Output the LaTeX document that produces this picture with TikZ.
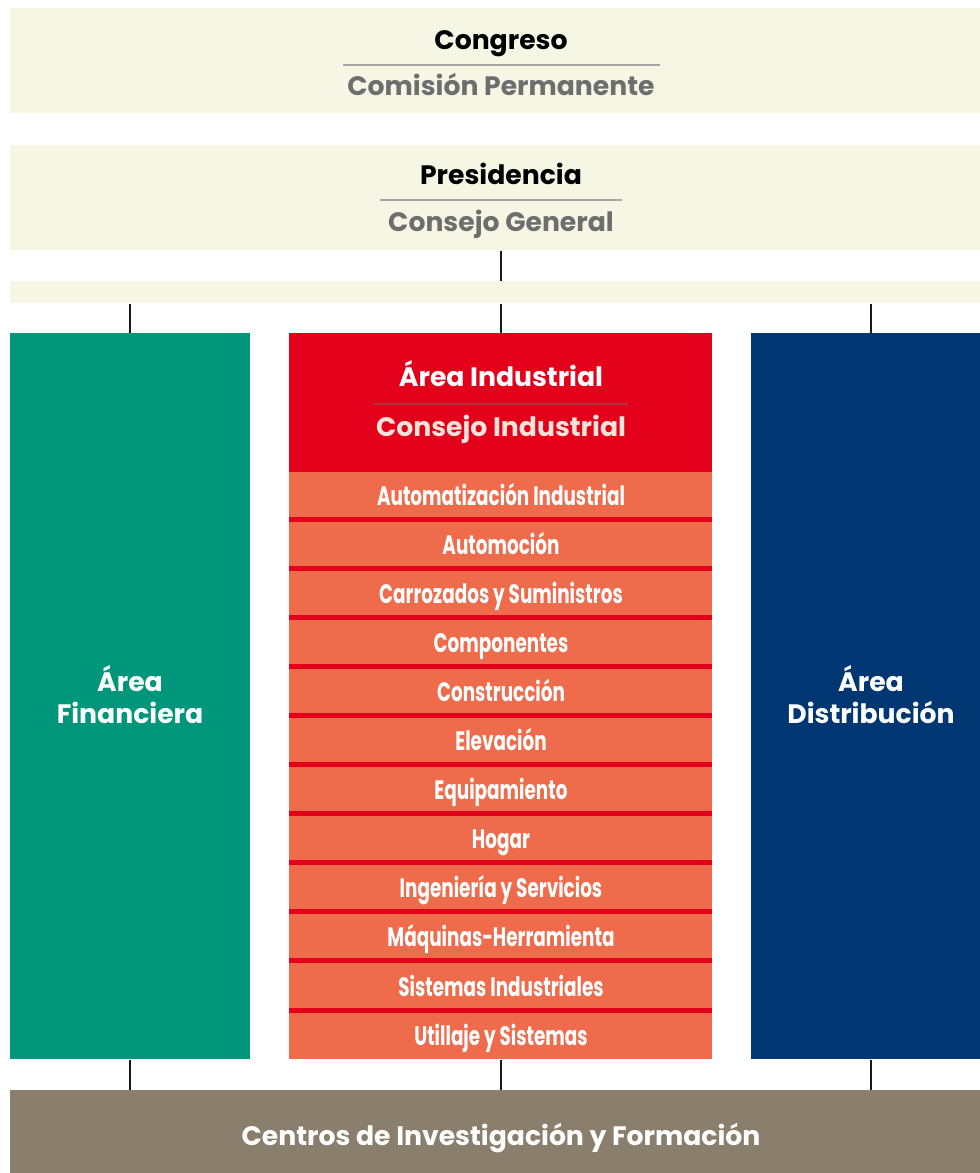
\documentclass[tikz,border=0pt]{standalone}
\usepackage{fontspec}
\setmainfont{Poppins}
\newfontfamily\estrecha{Poppins}[FakeStretch=0.69]
\usetikzlibrary{positioning}

\definecolor{crema}{HTML}{F5F7E4}
\definecolor{verde}{HTML}{00967B}
\definecolor{rojo}{HTML}{E2001A}
\definecolor{naranja}{HTML}{EE6B4C}
\definecolor{azul}{HTML}{003671}
\definecolor{topo}{HTML}{8A7F6D}
\definecolor{grisT}{HTML}{6E6E6E}
\definecolor{rosa}{HTML}{FCE3D9}

\begin{document}
\begin{tikzpicture}[x=0.75pt,y=-0.75pt,
  caja/.style={inner sep=0,anchor=north west,minimum width=#1},
  banda/.style={caja=736.5pt,fill=crema},
  titulo/.style={font=\bfseries\fontsize{20}{23.7}\selectfont,align=center,inner sep=0,anchor=base},
  fila/.style={font=\estrecha\bfseries\fontsize{20}{24}\selectfont,text=white,inner sep=0,anchor=base},
  enlace/.style={line width=1.5pt,black!90},
  raya/.style={line width=0.8pt,black!35}
  ]
  \useasboundingbox (0,0) rectangle (980,1173);

  % bandas superiores
  \node[banda,minimum height=78.75pt] (congreso) at (10,8) {};
  \node[banda,minimum height=78.75pt] (presid) at (10,145) {};
  \node[banda,minimum height=16.5pt] (barra) at (10,281) {};

  \node[titulo] (tcon) at (501,50) {Congreso};
  \draw[raya] (343,65) -- (660,65);
  \node[titulo,text=grisT] (tcom) at (501,96) {Comisión Permanente};
  \node[titulo] (tpre) at (501,185) {Presidencia};
  \draw[raya] (380,200) -- (622,200);
  \node[titulo,text=grisT] (tcg) at (501,232) {Consejo General};

  % areas
  \node[caja=180pt,minimum height=544.5pt,fill=verde] (fin) at (10,333) {};
  \node[caja=317.25pt,minimum height=104.25pt,fill=rojo] (ind) at (289,333) {};
  \node[caja=317.25pt,minimum height=440.25pt,fill=naranja] (sect) at (289,472) {};
  \node[caja=180pt,minimum height=544.5pt,fill=azul] (dis) at (751,333) {};
  \node[banda,minimum height=62.25pt,fill=topo] (centros) at (10,1090) {};

  \node[titulo,text=white] (tfin) at (130,723.5) {Área\\Financiera};
  \node[titulo,text=white] (tdis) at (871,723.5) {Área\\Distribución};
  \node[titulo,text=white] (tind) at (501,386.5) {Área Industrial};
  \draw[line width=0.8pt,rojo!70!black!80] (373,404) -- (628,404);
  \node[titulo,text=rosa] (tci) at (501,436) {Consejo Industrial};
  \node[titulo,text=white] (tcen) at (501,1145.5) {Centros de Investigación y Formación};

  % sectores
  \foreach \nombre [count=\i] in {Automatización Industrial,Automoción,
    Carrozados y Suministros,Componentes,Construcción,Elevación,Equipamiento,
    Hogar,Ingeniería y Servicios,Máquinas-Herramienta,Sistemas Industriales,
    Utillaje y Sistemas}
    \node[fila] (s\i) at (501,{505+49.1*(\i-1)}) {\nombre};
  \foreach \i in {1,...,11}
    \fill[rojo] (289,{516.5+49.1*(\i-1)}) rectangle (712,{521.5+49.1*(\i-1)});

  % enlaces
  \draw[enlace] (presid.south) -- (barra.north);
  \foreach \a in {fin,ind,dis} {
    \draw[enlace] (barra.south -| \a.north) -- (\a.north);
  }
  \foreach \a in {fin,sect,dis} {
    \draw[enlace] (\a.south) -- (centros.north -| \a.south);
  }
\end{tikzpicture}
\end{document}
